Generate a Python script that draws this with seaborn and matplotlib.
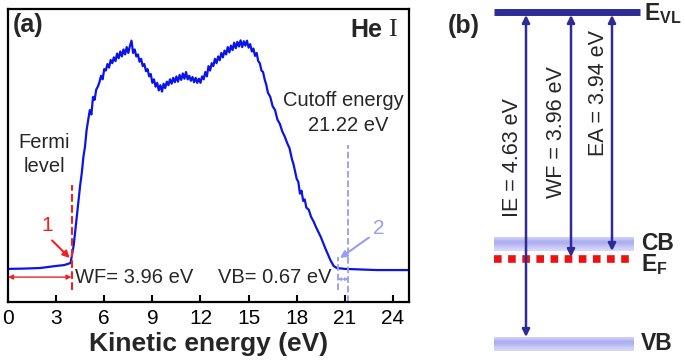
import numpy as np
import pandas as pd
import matplotlib
matplotlib.use('Agg')
import matplotlib.pyplot as plt
import seaborn as sns
from matplotlib.colors import LinearSegmentedColormap

# --- data (He I UPS spectrum, normalised intensity) ---
energy = [0.0, 1.0, 2.0, 3.0, 3.5, 3.9, 4.1, 4.3, 4.5, 4.6, 4.7, 4.8, 4.9,
          5.0, 5.1, 5.2, 5.3, 5.4, 5.5, 5.6, 5.7, 5.8, 5.9, 6.0, 6.1, 6.2, 6.3, 6.4,
          6.5, 6.6, 6.7, 6.8, 6.9, 7.0, 7.1, 7.2, 7.3, 7.4, 7.5, 7.6, 7.7, 7.8, 7.9,
          8.0, 8.1, 8.2, 8.3, 8.4, 8.5, 8.6, 8.7, 8.8, 8.9, 9.0, 9.1, 9.2, 9.3, 9.4,
          9.5, 9.6, 9.7, 9.8, 9.9, 10.0, 10.1, 10.2, 10.3, 10.4, 10.5, 10.6, 10.7,
          10.8, 10.9, 11.0, 11.1, 11.2, 11.3, 11.4, 11.5, 11.6, 11.7, 11.8, 11.9,
          12.0, 12.1, 12.2, 12.3, 12.4, 12.5, 12.6, 12.7, 12.8, 12.9, 13.0, 13.1,
          13.2, 13.3, 13.4, 13.5, 13.6, 13.7, 13.8, 13.9, 14.0, 14.1, 14.2, 14.3,
          14.4, 14.5, 14.6, 14.7, 14.8, 14.9, 15.0, 15.1, 15.2, 15.3, 15.4, 15.5,
          15.6, 15.7, 15.8, 15.9, 16.0, 16.1, 16.2, 16.35, 16.5, 16.65, 16.8, 16.95,
          17.1, 17.25, 17.4, 17.55, 17.7, 17.8, 17.9, 18.0, 18.1, 18.2, 18.3, 18.4,
          18.5, 18.6, 18.75, 18.9, 19.05, 19.2, 19.5, 19.8, 20.1, 20.3, 20.5, 21.0,
          22.0, 23.0, 24.0, 25.0]
intensity = [0.113, 0.114, 0.116, 0.123, 0.126, 0.133, 0.195, 0.297, 0.399, 0.440, 0.495,
             0.530, 0.587,
             0.620, 0.655, 0.640, 0.700, 0.690, 0.725, 0.735, 0.750, 0.772, 0.760, 0.795,
             0.790, 0.812, 0.800, 0.826, 0.815, 0.835, 0.822, 0.848, 0.832, 0.855, 0.838,
             0.862, 0.845, 0.870, 0.850, 0.874, 0.892, 0.850, 0.862, 0.838, 0.845, 0.820,
             0.830, 0.805, 0.812, 0.788, 0.795, 0.770, 0.778, 0.748, 0.760, 0.735, 0.748,
             0.722, 0.740, 0.718, 0.745, 0.730, 0.752, 0.740, 0.760, 0.745, 0.765, 0.750,
             0.770, 0.752, 0.775, 0.758, 0.780, 0.762, 0.785, 0.760, 0.772, 0.755, 0.768,
             0.750, 0.765, 0.748, 0.762, 0.748, 0.770, 0.760, 0.785, 0.770, 0.805, 0.790,
             0.815, 0.805, 0.830, 0.815, 0.838, 0.825, 0.850, 0.835, 0.858, 0.845, 0.870,
             0.852, 0.875, 0.860, 0.885, 0.866, 0.888, 0.872, 0.893, 0.870, 0.890, 0.875,
             0.892, 0.868, 0.880, 0.855, 0.865, 0.840, 0.850, 0.822, 0.815, 0.790, 0.785,
             0.760, 0.742, 0.715, 0.700, 0.668, 0.655, 0.622, 0.608, 0.582, 0.565, 0.543,
             0.525, 0.488, 0.470, 0.445, 0.420, 0.410, 0.370, 0.380, 0.345, 0.350, 0.322,
             0.315, 0.290, 0.275, 0.256, 0.222, 0.181, 0.143, 0.123, 0.116, 0.113, 0.111,
             0.109, 0.109, 0.109]
xticks = [0, 3, 6, 9, 12, 15, 18, 21, 24]
wf_value = 3.96
cutoff_value = 21.22
vb_value = 0.67

# panel (b) schematic levels and arrows
level_names = ['E_VL', 'CB', 'E_F', 'VB']
level_y = [12, 244, 259, 344]
arrow_labels = ['IE = 4.63 eV', 'WF = 3.96 eV', 'EA = 3.94 eV']
arrow_x = [526, 571, 612]
arrow_end = [337, 257, 251]

sns.set_theme(style='white')
plt.rcParams['font.family'] = ['Liberation Sans', 'DejaVu Sans']
plt.rcParams['mathtext.fontset'] = 'custom'
plt.rcParams['mathtext.bf'] = 'Liberation Sans:bold'
plt.rcParams['mathtext.rm'] = 'Liberation Sans'

fig = plt.figure(figsize=(6.85, 3.61), dpi=100)

# ---------------- panel (a) ----------------
ax = fig.add_axes([8 / 685, 59 / 361, 401 / 685, 293 / 361])
df = pd.DataFrame({'energy': energy, 'intensity': intensity})
sns.lineplot(data=df, x='energy', y='intensity', ax=ax, color='#0a14e6', lw=1.6)
ax.set_xlim(0, 25)
ax.set_ylim(0, 1)
ax.set_xticks(xticks)
ax.set_yticks([])
ax.set_ylabel('')
ax.tick_params(axis='x', direction='in', length=5, width=1.5, labelsize=15,
               bottom=True, pad=5, color='black', labelcolor='black')
for s in ax.spines.values():
    s.set_color('black')
    s.set_linewidth(1.6)
ax.set_xlabel('Kinetic energy (eV)', fontsize=19, fontweight='bold', labelpad=3)

red = '#ee2222'
lav = '#9a9cf0'
# fermi level marker
ax.plot([wf_value, wf_value], [0.04, 0.40], ls='--', color=red, lw=1.5)
ax.annotate('', xy=(0, 0.085), xytext=(wf_value, 0.085),
            arrowprops=dict(arrowstyle='<|-|>', color=red, lw=1.0,
                            mutation_scale=7, shrinkA=0, shrinkB=0))
ax.annotate('', xy=(3.85, 0.150), xytext=(2.75, 0.21),
            arrowprops=dict(arrowstyle='-|>', color=red, lw=1.5, mutation_scale=10,
                            shrinkA=0, shrinkB=0))
ax.text(2.45, 0.26, '1', color=red, fontsize=15, ha='center', va='center')
ax.text(2.25, 0.546, 'Fermi', fontsize=14.5, ha='center', va='center')
ax.text(2.25, 0.461, 'level', fontsize=14.5, ha='center', va='center')

# cutoff marker
ax.plot([cutoff_value, cutoff_value], [0.0, 0.535], ls='--', color=lav, lw=1.3)
ax.plot([cutoff_value - vb_value] * 2, [0.04, 0.155], ls='--', color=lav, lw=1.3)
ax.annotate('', xy=(cutoff_value - vb_value, 0.078), xytext=(cutoff_value, 0.078),
            arrowprops=dict(arrowstyle='<|-|>', color=lav, lw=1.0,
                            mutation_scale=4, shrinkA=0, shrinkB=0))
ax.annotate('', xy=(20.7, 0.150), xytext=(22.5, 0.22),
            arrowprops=dict(arrowstyle='-|>', color=lav, lw=1.5, mutation_scale=10,
                            shrinkA=0, shrinkB=0))
ax.text(23.1, 0.25, '2', color=lav, fontsize=15, ha='center', va='center')
ax.text(24.69, 0.689, 'Cutoff energy', fontsize=14.5, ha='right', va='center')
ax.text(cutoff_value, 0.604, f'{cutoff_value:.2f} eV', fontsize=14.5, ha='center',
        va='center')

ax.text(4.2, 0.083, f'WF= {wf_value:.2f} eV', fontsize=14.5, ha='left', va='center')
ax.text(13.1, 0.083, f'VB= {vb_value:.2f} eV', fontsize=14.5, ha='left', va='center')

ax.text(0.0125, 0.945, '(a)', transform=ax.transAxes, fontsize=18, fontweight='bold',
        ha='left', va='center')
ax.text(0.933, 0.928, 'He', transform=ax.transAxes, fontsize=18, fontweight='bold',
        ha='right', va='center')
ax.text(0.960, 0.928, 'I', transform=ax.transAxes, fontsize=19,
        family=['Liberation Serif', 'DejaVu Serif'], ha='center', va='center')

# ---------------- panel (b) ----------------
bx = fig.add_axes([420 / 685, 0, 265 / 685, 1])
bx.set_xlim(420, 685)
bx.set_ylim(361, 0)
bx.axis('off')

navy = '#2c2c94'
x0, x1 = 494, 640
# vacuum level bar
bx.plot([x0, x1], [level_y[0], level_y[0]], color=navy, lw=5, solid_capstyle='butt')
# CB and VB gradient bands
band_cmap = LinearSegmentedColormap.from_list('band', ['#e6e6fb', '#a9aaf0'])
grad = np.array([[0.35], [1.0], [0.85], [0.5], [0.25]])
for yc in (level_y[1], level_y[3]):
    bx.imshow(grad, cmap=band_cmap, aspect='auto', extent=(x0, 634, yc + 7, yc - 7),
              vmin=0, vmax=1, zorder=1, interpolation='bicubic')
# Fermi level
bx.plot([x0, 634], [level_y[2], level_y[2]], color='#ee1111', lw=5.5,
        ls=(0, (1.0, 0.85)), zorder=2)

for xa, ye, lab in zip(arrow_x, arrow_end, arrow_labels):
    bx.annotate('', xy=(xa, ye), xytext=(xa, level_y[0] + 3),
                arrowprops=dict(arrowstyle='<|-|>', color=navy, lw=1.8,
                                mutation_scale=11, shrinkA=0, shrinkB=0), zorder=3)
label_pos = [(512, 158), (557, 132), (599, 93)]
for (tx, ty), lab in zip(label_pos, arrow_labels):
    bx.text(tx, ty, lab, rotation=90, fontsize=15.5, ha='center', va='center')

bx.text(448, 26, '(b)', fontsize=18, fontweight='bold', ha='left', va='center')
bx.text(644, 14, r'$\mathbf{E}_{\mathbf{VL}}$', fontsize=16.5, ha='left', va='center')
bx.text(641, 243, 'CB', fontsize=16.5, fontweight='bold', ha='left', va='center')
bx.text(641, 265, r'$\mathbf{E}_{\mathbf{F}}$', fontsize=16.5, ha='left', va='center')
bx.text(641, 343, 'VB', fontsize=16.5, fontweight='bold', ha='left', va='center')

fig.savefig('out.png', dpi=100)
